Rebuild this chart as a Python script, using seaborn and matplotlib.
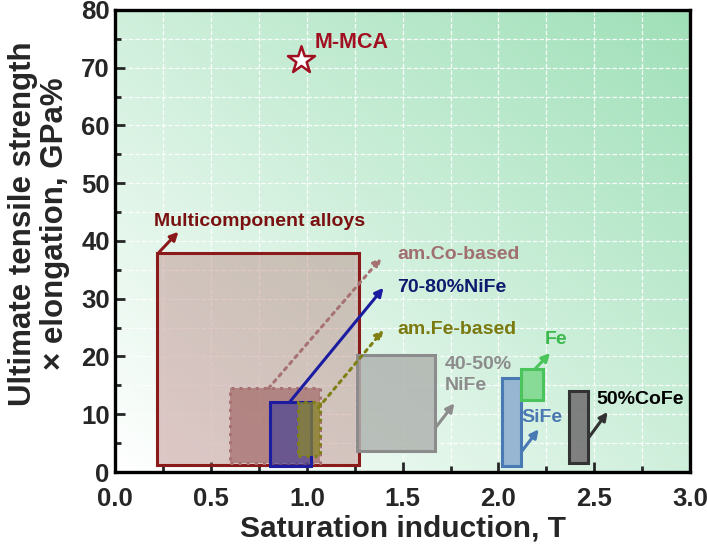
import matplotlib.pyplot as plt
import matplotlib.patches as mpatches
from matplotlib.colors import LinearSegmentedColormap
import numpy as np
import pandas as pd
import seaborn as sns

# material ranges (Bs in T, UTS x elongation in GPa%)
names = ['Multicomponent alloys', 'am.Co-based', '70-80%NiFe', 'am.Fe-based',
         '40-50%\nNiFe', 'SiFe', 'Fe', '50%CoFe']
bs_min = [0.22, 0.60, 0.81, 0.955, 1.26, 2.02, 2.12, 2.37]
bs_max = [1.27, 1.07, 1.02, 1.07, 1.67, 2.12, 2.23, 2.47]
ute_min = [1.2, 1.5, 1.0, 2.8, 3.6, 1.0, 12.5, 1.6]
ute_max = [38.0, 14.5, 12.1, 12.1, 20.3, 16.3, 17.8, 14.0]

# arrow start (on box) / tip, label anchor
arrow_x0 = [0.23, 0.80, 0.91, 1.06, 1.67, 2.12, 2.19, 2.47]
arrow_y0 = [38.1, 14.5, 12.1, 11.1, 7.6, 3.5, 17.8, 5.9]
arrow_x1 = [0.33, 1.39, 1.40, 1.40, 1.77, 2.21, 2.27, 2.57]
arrow_y1 = [41.6, 37.1, 31.9, 24.6, 11.9, 7.4, 20.6, 10.4]
label_x = [0.20, 1.47, 1.47, 1.47, 1.72, 2.12, 2.24, 2.51]
label_y = [43.3, 37.7, 32.0, 24.6, 16.8, 9.4, 23.0, 12.5]

mmca_bs = [0.97]
mmca_ute = [71.3]

edge_colors = ['#8b1a1a', '#a67272', '#1c1ca0', '#7f7f14', '#8c8c8c', '#4a7ab4', '#4cc45c', '#333333']
face_colors = ['#b07070', '#9a5a5a', '#3a3a9a', '#8a8a2a', '#b0b4b0', '#8fb0d0', '#80d890', '#7a7a7a']
face_alpha = [0.38, 0.6, 0.6, 0.7, 0.85, 0.9, 0.9, 0.95]
text_colors = ['#7a1010', '#a07070', '#0d1a6e', '#7a7a10', '#8c8c8c', '#4a78b0', '#3cb84c', '#000000']
styles = ['-', ':', '-', ':', '-', '-', '-', '-']

sns.set_theme(style='ticks')
plt.rcParams['font.family'] = ['Liberation Sans', 'DejaVu Sans']
plt.rcParams['font.weight'] = 'bold'

fig = plt.figure(figsize=(7.07, 5.54), dpi=100)
ax = fig.add_axes([0.163, 0.148, 0.813, 0.834])

# gradient background, white at lower left to green at upper right
gx, gy = np.meshgrid(np.linspace(0, 1, 200), np.linspace(0, 1, 200))
grad = (gx + gy) / 2
cmap = LinearSegmentedColormap.from_list('bg', ['#ffffff', '#9fe0b8'])
ax.imshow(grad, extent=[0, 3, 0, 80], origin='lower', aspect='auto', cmap=cmap, zorder=0)

df = pd.DataFrame({'name': names, 'x0': bs_min, 'x1': bs_max, 'y0': ute_min, 'y1': ute_max})
for i, r in df.iterrows():
    ax.add_patch(mpatches.Rectangle((r.x0, r.y0), r.x1 - r.x0, r.y1 - r.y0,
                                    facecolor=face_colors[i], alpha=face_alpha[i], edgecolor='none', zorder=2 + i))
    ax.add_patch(mpatches.Rectangle((r.x0, r.y0), r.x1 - r.x0, r.y1 - r.y0,
                                    facecolor='none', edgecolor=edge_colors[i], linewidth=2.2,
                                    linestyle=styles[i], zorder=2 + i))
    ax.annotate('', xy=(arrow_x1[i], arrow_y1[i]), xytext=(arrow_x0[i], arrow_y0[i]),
                arrowprops=dict(arrowstyle='-|>', color=edge_colors[i], lw=2.2,
                                linestyle=styles[i], mutation_scale=12, shrinkA=0, shrinkB=0),
                zorder=20)
    ax.text(label_x[i], label_y[i], r['name'], color=text_colors[i], fontsize=14,
            fontweight='bold', ha='left', va='center', zorder=21, linespacing=1.25)

sns.scatterplot(x=mmca_bs, y=mmca_ute, marker='*', s=420, color='white',
                edgecolor='#a01020', linewidth=1.8, ax=ax, zorder=22)
ax.text(1.04, 74.3, 'M-MCA', color='#a01020', fontsize=15.5, fontweight='bold', va='center', zorder=22)

ax.set_xlim(0, 3.0)
ax.set_ylim(0, 80)
ax.set_xticks(np.arange(0, 3.01, 0.5))
ax.set_xticks(np.arange(0, 3.01, 0.25), minor=True)
ax.set_yticks(np.arange(0, 81, 10))
ax.set_yticks(np.arange(0, 81, 5), minor=True)
ax.grid(which='both', color='white', linestyle='--', linewidth=0.9, alpha=0.9)
for ln in ax.get_xgridlines() + ax.get_ygridlines():
    ln.set_zorder(1)
ax.tick_params(which='both', direction='in', width=2, labelsize=18.5, top=False, right=False)
ax.tick_params(which='major', length=7)
ax.tick_params(which='minor', length=4)
ax.tick_params(axis='x', which='major', pad=11)
ax.tick_params(axis='y', which='major', pad=4)
for lbl in ax.get_xticklabels() + ax.get_yticklabels():
    lbl.set_fontweight('bold')
for sp in ax.spines.values():
    sp.set_linewidth(2.4)
    sp.set_color('black')
    sp.set_zorder(30)

ax.set_xlabel('Saturation induction, T', fontsize=21.5, fontweight='bold')
ax.set_ylabel('Ultimate tensile strength\n× elongation, GPa%', fontsize=22.5, fontweight='bold',
              linespacing=1.1)
ax.xaxis.set_label_coords(0.5, -0.092)
ax.yaxis.set_label_coords(-0.078, 0.537)

fig.savefig('out.png', dpi=100)
